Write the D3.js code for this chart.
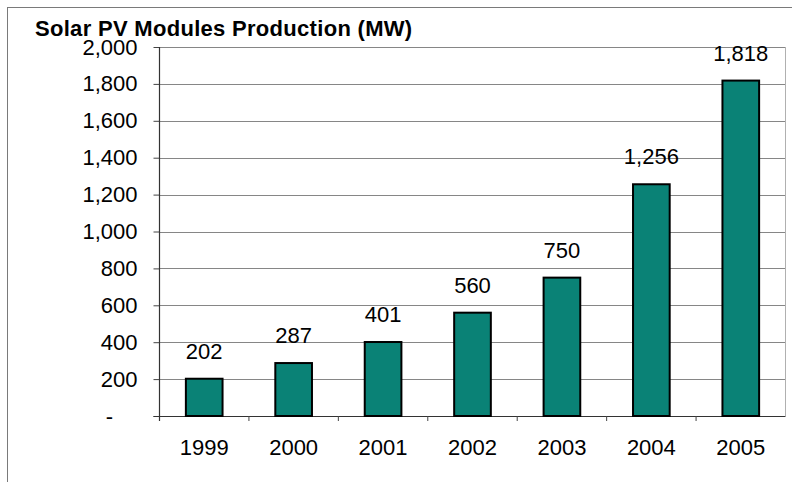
<!DOCTYPE html>
<html><head><meta charset="utf-8">
<script src="https://cdn.jsdelivr.net/npm/d3@7"></script>
<style>
html,body{margin:0;padding:0;background:#fff;}
svg{display:block;font-family:Arial,"Liberation Sans",sans-serif;}
</style></head>
<body><svg id="c" width="792" height="482"></svg>
<script>
const title = "Solar PV Modules Production (MW)";
const years = ["1999","2000","2001","2002","2003","2004","2005"];
const production = [202, 287, 401, 560, 750, 1256, 1818];
const yTicks = [0,200,400,600,800,1000,1200,1400,1600,1800,2000];

const svg = d3.select("#c");
const W = 792, H = 482;
const m = {left:159.5, right:6.5, top:47, bottom:66};

// outer frame
svg.append("rect").attr("x",7.5).attr("y",7.5).attr("width",W+20).attr("height",H+20)
  .attr("fill","none").attr("stroke","#7a7a7a").attr("stroke-width",1);

svg.append("text").attr("x",35).attr("y",36).attr("font-size",22).attr("font-weight","bold")
  .attr("letter-spacing",0.3).attr("fill","#000").text(title);

const x = d3.scaleBand().domain(years).range([m.left, W-m.right]).paddingInner(0.59).paddingOuter(0.295);
const xb = d3.scaleBand().domain(years).range([m.left, W-m.right]);
const y = d3.scaleLinear().domain([0,2000]).range([H-m.bottom, m.top]);

const fmt = d3.format(",");
// gridlines
svg.append("g").selectAll("line").data(yTicks.filter(d=>d>0)).join("line")
  .attr("x1",m.left).attr("x2",W-m.right)
  .attr("y1",d=>Math.round(y(d))+0.5).attr("y2",d=>Math.round(y(d))+0.5)
  .attr("stroke","#868686").attr("stroke-width",1);
// right border
svg.append("line").attr("x1",W-m.right).attr("x2",W-m.right)
  .attr("y1",y(2000)).attr("y2",y(0)).attr("stroke","#b0b0b0");

// y axis
const yAxis = d3.axisLeft(y).tickValues(yTicks).tickSize(6).tickPadding(16)
  .tickFormat(d => d===0 ? "-\u2007\u2007" : fmt(d));
const gy = svg.append("g").attr("transform",`translate(${m.left},0)`).call(yAxis);
gy.select(".domain").remove();
gy.selectAll(".tick line").attr("stroke","#444");
gy.selectAll(".tick text").attr("font-size",22).attr("fill","#000").attr("font-family","Arial,'Liberation Sans',sans-serif");
svg.append("line").attr("x1",m.left).attr("x2",m.left).attr("y1",y(2000)).attr("y2",y(0)+5)
  .attr("stroke","#333").attr("stroke-width",1.2);

// x axis
svg.append("line").attr("x1",m.left-6).attr("x2",W-m.right).attr("y1",y(0)+0.5).attr("y2",y(0)+0.5)
  .attr("stroke","#333").attr("stroke-width",1.2);
svg.append("g").selectAll("line").data(years.slice(1)).join("line")
  .attr("x1",d=>xb(d)).attr("x2",d=>xb(d)).attr("y1",y(0)).attr("y2",y(0)+5)
  .attr("stroke","#444");
svg.append("g").selectAll("text").data(years).join("text")
  .attr("x",d=>xb(d)+xb.bandwidth()/2).attr("y",455)
  .attr("text-anchor","middle").attr("font-size",22).attr("fill","#000").text(d=>d);

// bars
svg.append("g").selectAll("rect").data(production).join("rect")
  .attr("x",(d,i)=>x(years[i])).attr("width",x.bandwidth())
  .attr("y",d=>y(d)).attr("height",d=>y(0)-y(d))
  .attr("fill","#0a8276").attr("stroke","#000").attr("stroke-width",2);

// value labels
svg.append("g").selectAll("text").data(production).join("text")
  .attr("x",(d,i)=>x(years[i])+x.bandwidth()/2).attr("y",d=>y(d)-20)
  .attr("text-anchor","middle").attr("font-size",22).attr("fill","#000").text(d=>fmt(d));
</script></body></html>
